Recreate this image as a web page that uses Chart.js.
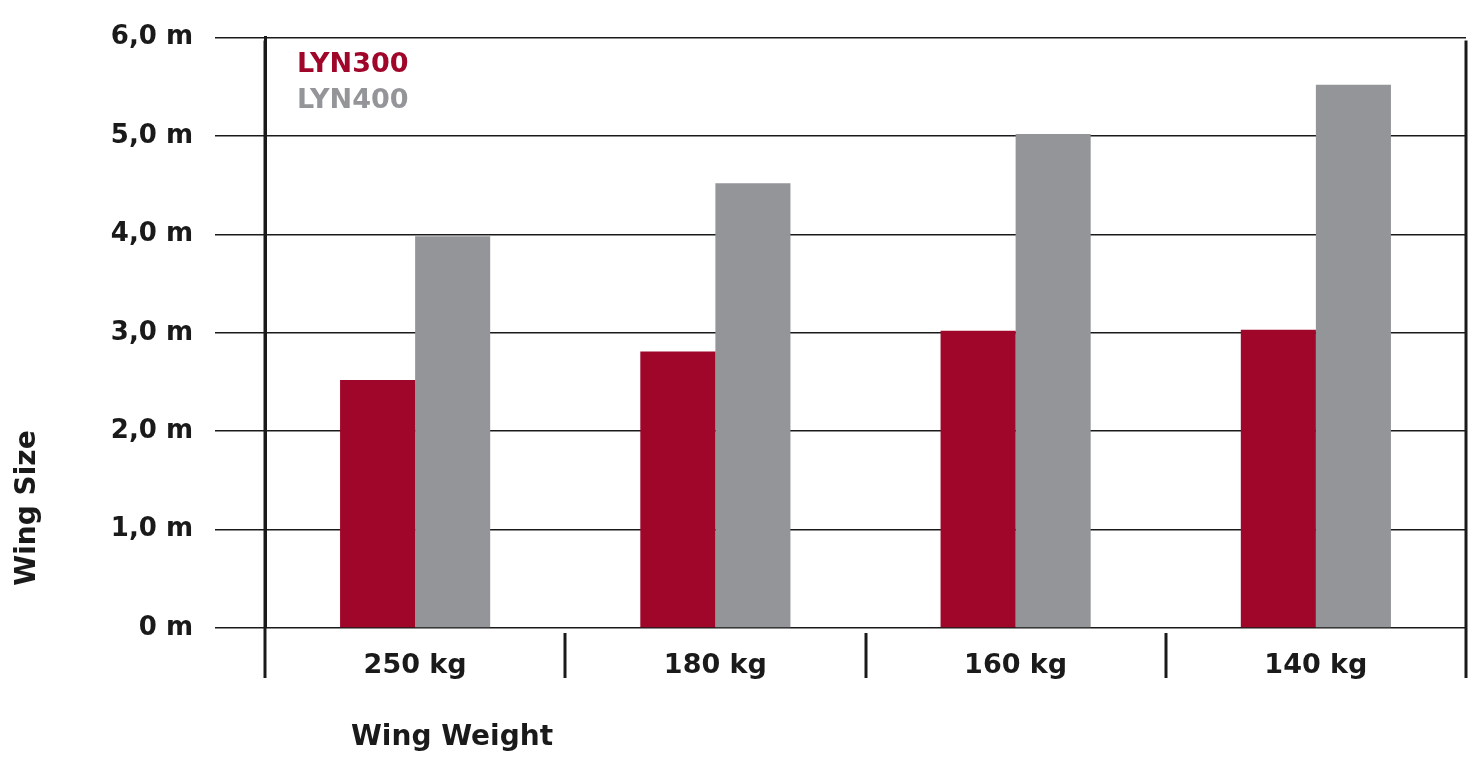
<!DOCTYPE html>
<html><head><meta charset="utf-8">
<script src="https://cdn.jsdelivr.net/npm/chart.js@4/dist/chart.umd.min.js"></script>
<style>html,body{margin:0;padding:0;background:#fff}#w{width:1479px;height:762px}</style>
</head><body><div id="w"><canvas id="c"></canvas></div>
<script>
const categories = ["250 kg","180 kg","160 kg","140 kg"];
const lyn300 = [2.52, 2.81, 3.02, 3.03];
const lyn400 = [3.98, 4.52, 5.02, 5.52];
const seriesNames = ["LYN300","LYN400"];
const seriesColors = ["#A0052A","#939598"];
const yTitle = "Wing Size";
const xTitle = "Wing Weight";
const FONT = "'DejaVu Sans', Verdana, sans-serif";

const deco = {
  id:'deco',
  afterDraw(chart){
    const ctx = chart.ctx, x = chart.scales.x, a = chart.chartArea;
    ctx.save();
    ctx.strokeStyle = '#1a1a1a';
    for (let i = 0; i <= categories.length; i++) {
      const px = Math.round(x.getPixelForValue(i - 0.5));
      const edge = (i === 0 || i === categories.length);
      ctx.lineWidth = 3;
      ctx.beginPath();
      ctx.moveTo(px, edge ? a.top + 3 : a.bottom + 5);
      ctx.lineTo(px, a.bottom + 50);
      ctx.stroke();
    }
    ctx.font = "bold 27px " + FONT;
    ctx.textBaseline = 'middle'; ctx.textAlign = 'left';
    chart.data.datasets.forEach((d, i) => {
      ctx.fillStyle = d.backgroundColor;
      ctx.fillText(d.label, a.left + 32, 65 + i * 36);
    });
    ctx.fillStyle = '#1a1a1a';
    ctx.font = "bold 28px " + FONT;
    ctx.textAlign = 'center';
    ctx.fillText(xTitle, 452, 738);
    ctx.translate(28, 508); ctx.rotate(-Math.PI/2);
    ctx.fillText(yTitle, 0, 0);
    ctx.restore();
  }
};

new Chart(document.getElementById('c'), {
  type:'bar',
  data:{labels:categories, datasets:[
    {label:seriesNames[0], data:lyn300, backgroundColor:seriesColors[0]},
    {label:seriesNames[1], data:lyn400, backgroundColor:seriesColors[1]}
  ]},
  options:{
    responsive:true, maintainAspectRatio:false, animation:false,
    layout:{padding:{top:27, right:13, left:0, bottom:0}},
    datasets:{bar:{categoryPercentage:0.5, barPercentage:1}},
    plugins:{legend:{display:false}, tooltip:{enabled:false}},
    scales:{
      x:{
        grid:{display:false},
        border:{display:false},
        ticks:{color:'#1a1a1a', font:{family:FONT, size:27, weight:'bold'}, padding:14, maxRotation:0},
        afterFit(s){ s.height = 134; }
      },
      y:{
        min:0, max:6,
        grid:{color:'#1a1a1a', lineWidth:1.5, tickLength:50, drawTicks:true},
        border:{display:true, color:'#1a1a1a', width:3},
        ticks:{stepSize:1, color:'#1a1a1a', padding:22, font:{family:FONT, size:26, weight:'bold'},
          callback:v => v === 0 ? "0 m" : v.toFixed(1).replace('.', ',') + " m"},
        afterFit(s){ s.width = 265; }
      }
    }
  },
  plugins:[deco]
});
</script></body></html>
